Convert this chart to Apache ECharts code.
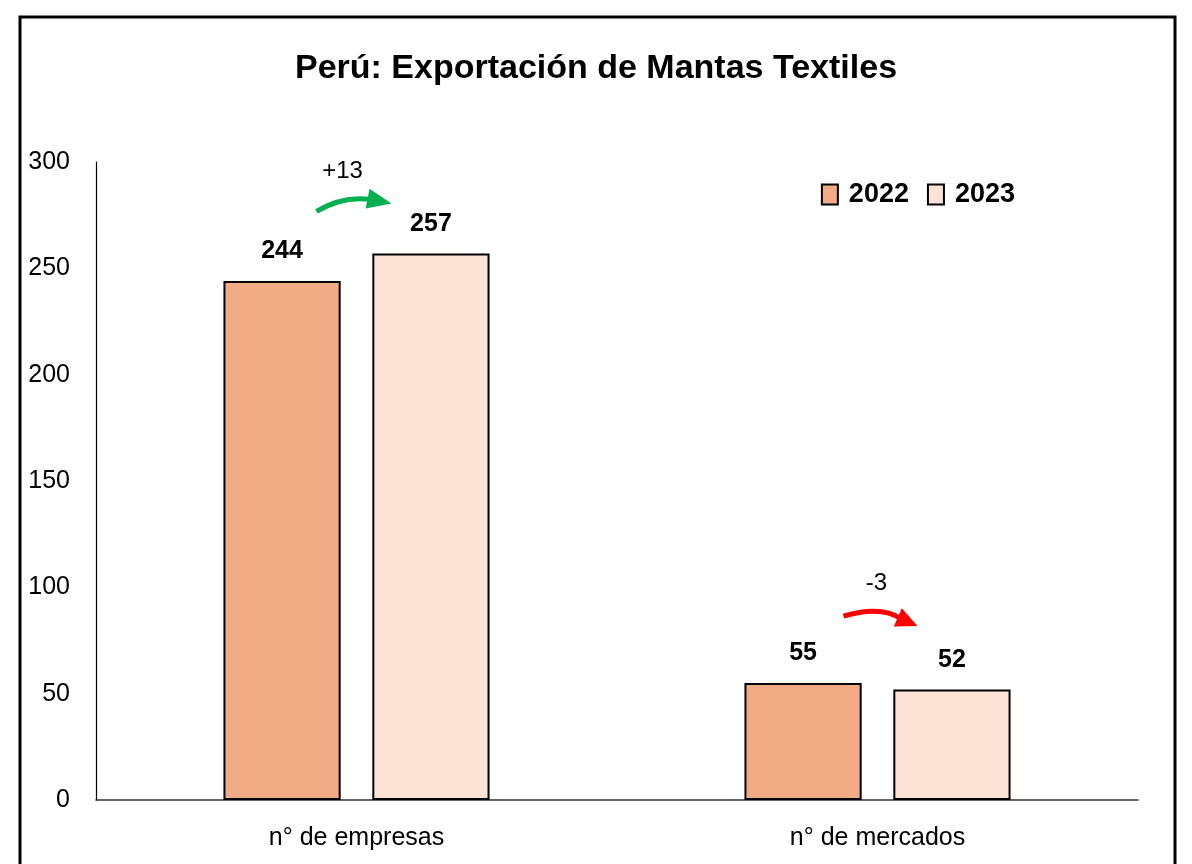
<!DOCTYPE html>
<html>
<head>
<meta charset="utf-8">
<script src="https://cdn.jsdelivr.net/npm/echarts@6/dist/echarts.min.js"></script>
<style>
  html, body { margin: 0; padding: 0; background: #fff; }
  #chart { width: 1192px; height: 864px; }
</style>
</head>
<body>
<div id="chart"></div>
<script>
// datos
var categorias = ['n° de empresas', 'n° de mercados'];
var anios = ['2022', '2023'];
var valores2022 = [244, 55];
var valores2023 = [257, 52];
var variaciones = ['+13', '-3'];
var colores = ['#F1AC86', '#FCE3D6'];
var flechaColores = ['#00B050', '#FF0000'];

var FONT = '"Liberation Sans", Arial, sans-serif';
var myChart = echarts.init(document.getElementById('chart'));

function serie(nombre, datos, color) {
  return {
    name: nombre,
    type: 'bar',
    data: datos,
    barWidth: '22.5%',
    barGap: '27%',
    itemStyle: { color: color, borderColor: '#000', borderWidth: 2 },
    label: {
      show: true,
      position: 'top',
      distance: 17,
      fontFamily: FONT,
      fontWeight: 'bold',
      fontSize: 25,
      color: '#000'
    }
  };
}

var option = {
  animation: false,
  backgroundColor: '#fff',
  title: {
    text: 'Perú: Exportación de Mantas Textiles',
    left: 'center',
    top: 47,
    textStyle: { fontFamily: FONT, fontWeight: 'bold', fontSize: 34, color: '#000' }
  },
  legend: {
    data: anios,
    right: 172,
    top: 176,
    itemWidth: 16,
    itemHeight: 20,
    itemGap: 18,
    icon: 'rect',
    itemStyle: { borderWidth: 2 },
    textStyle: { fontFamily: FONT, fontWeight: 'bold', fontSize: 27, color: '#000', padding: [0, 0, 0, 6] }
  },
  grid: { left: 96, right: 54, top: 162, bottom: 64 },
  xAxis: {
    type: 'category',
    data: categorias,
    axisLine: { lineStyle: { color: '#333', width: 1.5 } },
    axisTick: { show: false },
    axisLabel: { fontFamily: FONT, fontSize: 25, color: '#000', margin: 26 }
  },
  yAxis: {
    type: 'value',
    min: 0,
    max: 300,
    interval: 50,
    axisLine: { show: true, lineStyle: { color: '#000', width: 1.2 } },
    axisTick: { show: false },
    splitLine: { show: false },
    axisLabel: { fontFamily: FONT, fontSize: 25, color: '#000', margin: 26 }
  },
  series: [serie(anios[0], valores2022, colores[0]), serie(anios[1], valores2023, colores[1])]
};
myChart.setOption(option);

// flechas de variación, ubicadas con las escalas del gráfico
var graficos = [{
  type: 'rect',
  shape: { x: 20, y: 17, width: 1155, height: 900 },
  style: { fill: null, stroke: '#000', lineWidth: 3 },
  z: 100
}];

function flecha(ini, ctrl, fin, punta, col) {
  var dx = punta[0] - fin[0], dy = punta[1] - fin[1];
  var len = Math.sqrt(dx * dx + dy * dy);
  var nx = -dy / len * 10, ny = dx / len * 10;
  var bx = fin[0] - dx / len * 4, by = fin[1] - dy / len * 4;
  graficos.push({
    type: 'bezierCurve',
    shape: { x1: ini[0], y1: ini[1], cpx1: ctrl[0], cpy1: ctrl[1], x2: fin[0], y2: fin[1] },
    style: { stroke: col, lineWidth: 5, fill: null },
    z: 50
  });
  graficos.push({
    type: 'polygon',
    shape: { points: [[punta[0], punta[1]], [bx + nx, by + ny], [bx - nx, by - ny]] },
    style: { fill: col },
    z: 50
  });
}

for (var i = 0; i < categorias.length; i++) {
  var alto = Math.max(valores2022[i], valores2023[i]);
  var c = myChart.convertToPixel({ xAxisIndex: 0, yAxisIndex: 0 }, [i, alto]);
  var cx = c[0], cy = c[1];
  var col = flechaColores[i];
  var tx, ty;
  if (valores2023[i] >= valores2022[i]) {
    flecha([cx - 40, cy - 42], [cx - 14, cy - 58], [cx + 15, cy - 54], [cx + 35, cy - 50], col);
    tx = cx - 14; ty = cy - 82;
  } else {
    flecha([cx - 34, cy - 67], [cx + 4, cy - 78], [cx + 24, cy - 64], [cx + 40, cy - 57], col);
    tx = cx - 1; ty = cy - 100;
  }
  graficos.push({
    type: 'text',
    x: tx,
    y: ty,
    style: {
      text: variaciones[i],
      fontFamily: FONT,
      fontSize: 24,
      fill: '#000',
      align: 'center',
      verticalAlign: 'middle'
    },
    z: 50
  });
}
myChart.setOption({ graphic: graficos });
</script>
</body>
</html>
